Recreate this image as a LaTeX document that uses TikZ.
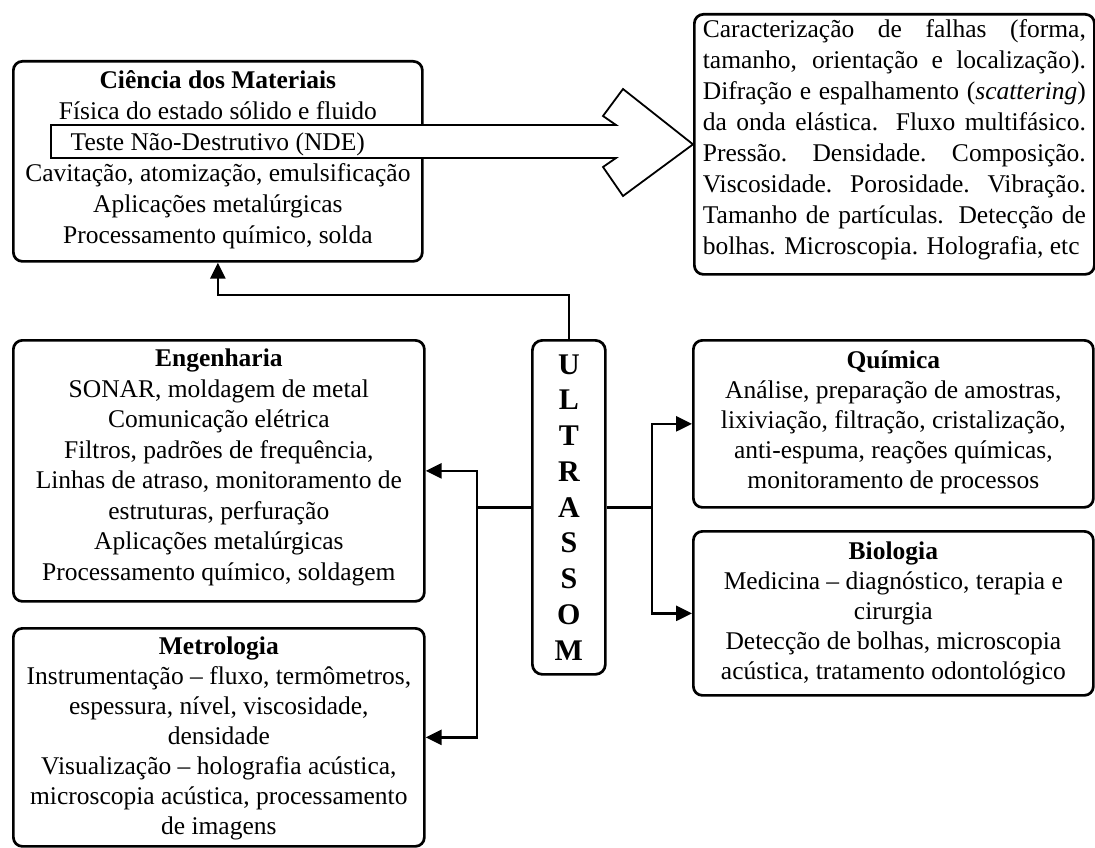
\documentclass[tikz,border=0pt]{standalone}
\usepackage{fontspec}
\setmainfont{Liberation Serif}
\usetikzlibrary{arrows.meta}
\begin{document}
\begin{tikzpicture}[x=1pt,y=-1pt,
  panel/.style={draw, line width=2.7pt, rounded corners=9pt, inner sep=0pt, fill=white},
  body/.style={inner sep=0pt, align=center, font=\fontsize{25.5}{30}\selectfont},
  link/.style={line width=2.7pt, line join=miter},
  tip/.style={link, -{Triangle[length=16pt,width=15pt]}},
  bigarrow/.style={draw, line width=1.8pt, fill=white, line join=miter}
]
\useasboundingbox (0,0) rectangle (1095,848);

% panels
\node[panel, minimum width=409pt, minimum height=200pt, anchor=north west] (mat) at (12,60) {};
\node[panel, minimum width=400pt, minimum height=260pt, anchor=north west] (car) at (693,13) {};
\node[panel, minimum width=411pt, minimum height=261pt, anchor=north west] (eng) at (12,339) {};
\node[panel, minimum width=411pt, minimum height=218pt, anchor=north west] (met) at (12,627) {};
\node[panel, minimum width=400pt, minimum height=167pt, anchor=north west] (qui) at (692,339) {};
\node[panel, minimum width=400pt, minimum height=164pt, anchor=north west] (bio) at (692,530) {};
\node[panel, rounded corners=10pt, minimum width=73pt, minimum height=334pt, anchor=north west,
      align=center, font=\fontsize{30}{35.75}\selectfont\bfseries] (ult) at (531,339)
      {U\\L\\T\\R\\A\\S\\S\\O\\M};

% wide hollow arrow from the materials panel to the list of measurements
\draw[bigarrow] (51,125) -- (616,125) -- (603,116) -- (623,89) -- (car.west)
  -- (623,196) -- (603,167) -- (616,158) -- (51,158) -- cycle;

% panel texts
\node[body, anchor=north, font=\fontsize{25.5}{31}\selectfont] (matT) at ([yshift=-7pt]mat.north)
  {\strut\textbf{Ciência dos Materiais}\\
  Física do estado sólido e fluido\\
  Teste Não-Destrutivo (NDE)\\
  Cavitação, atomização, emulsificação\\
  Aplicações metalúrgicas\\
  Processamento químico, solda};

\node[body, anchor=north, font=\fontsize{25.5}{31}\selectfont] (carT) at ([yshift=-3pt]car.north) {%
  \makebox[383pt][s]{\strut Caracterização de falhas (forma,}\\
  \makebox[383pt][s]{tamanho, orientação e localização).}\\
  \makebox[383pt][s]{Difração e espalhamento (\textit{scattering})}\\
  \makebox[383pt][s]{da onda elástica. Fluxo multifásico.}\\
  \makebox[383pt][s]{Pressão. Densidade. Composição.}\\
  \makebox[383pt][s]{Viscosidade. Porosidade. Vibração.}\\
  \makebox[383pt][s]{Tamanho de partículas. Detecção de}\\
  \makebox[383pt][l]{bolhas. Microscopia. Holografia, etc}};

\node[body, anchor=north, font=\fontsize{25.5}{30.5}\selectfont] (engT) at ([yshift=-6pt]eng.north)
  {\strut\textbf{Engenharia}\\
  SONAR, moldagem de metal\\
  Comunicação elétrica\\
  Filtros, padrões de frequência,\\
  Linhas de atraso, monitoramento de\\
  estruturas, perfuração\\
  Aplicações metalúrgicas\\
  Processamento químico, soldagem};

\node[body, anchor=north] (metT) at ([yshift=-6pt]met.north) {\strut\textbf{Metrologia}\\
  Instrumentação – fluxo, termômetros,\\
  espessura, nível, viscosidade,\\
  densidade\\
  Visualização – holografia acústica,\\
  microscopia acústica, processamento\\
  de imagens};

\node[body, anchor=north] (quiT) at ([yshift=-8pt]qui.north) {\strut\textbf{Química}\\
  Análise, preparação de amostras,\\
  lixiviação, filtração, cristalização,\\
  anti-espuma, reações químicas,\\
  monitoramento de processos};

\node[body, anchor=north] (bioT) at ([yshift=-8pt]bio.north) {\strut\textbf{Biologia}\\
  Medicina – diagnóstico, terapia e\\
  cirurgia\\
  Detecção de bolhas, microscopia\\
  acústica, tratamento odontológico};

% connectors
\coordinate (topy) at (0,295);
\coordinate (lx) at (477,0);
\coordinate (rx) at (652,0);
\draw[tip] (ult.north) -- (ult.north |- topy) -| (mat.south);
\draw[link] (ult.west) -- (ult.west -| lx) coordinate (lj);
\draw[tip] (lj) |- (eng.east);
\draw[tip] (lj) |- (met.east);
\draw[link] (ult.east) -- (ult.east -| rx) coordinate (rj);
\draw[tip] (rj) |- (qui.west);
\draw[tip] (rj) |- (bio.west);
\end{tikzpicture}
\end{document}
